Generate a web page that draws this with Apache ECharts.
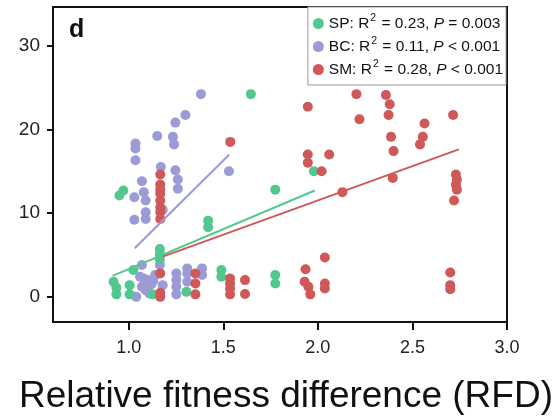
<!DOCTYPE html>
<html>
<head>
<meta charset="utf-8">
<script src="https://cdn.jsdelivr.net/npm/echarts@6/dist/echarts.min.js"></script>
<style>
  html, body { margin: 0; padding: 0; background: #fff; }
  #chart { width: 556px; height: 420px; }
</style>
</head>
<body>
<div id="chart"></div>
<script>
// series names, in legend order
var seriesNames = ['SP', 'BC', 'SM'];
var r2Values = ['0.23', '0.11', '0.28'];
var pTexts = ['= 0.003', '< 0.001', '< 0.001'];

// tick labels
var xTicks = [1.0, 1.5, 2.0, 2.5, 3.0];
var yTicks = [0, 10, 20, 30];

// points: [RFD, y]
var spPoints = [
    [0.951, 12.1], [0.972, 12.7], [1.42, 9.1], [1.42, 8.3],
    [1.165, 5.7], [1.165, 5.1], [1.165, 4.5],
    [0.92, 1.8], [0.935, 1.1], [0.935, 0.3], [1.005, 1.4], [1.005, 0.3],
    [1.025, 3.2], [1.125, 0.3], [1.305, 0.6], [1.49, 3.2], [1.49, 2.4],
    [1.775, 2.6], [1.775, 1.6], [1.775, 12.8], [1.646, 24.2], [1.979, 15.0]
];
var bcPoints = [
    [1.382, 24.2], [1.30, 21.7], [1.247, 20.8], [1.151, 19.2], [1.234, 19.1],
    [1.24, 18.2], [1.036, 18.3], [1.036, 17.7], [1.036, 16.3], [1.53, 15.0],
    [1.17, 15.5], [1.247, 15.1], [1.26, 14.0], [1.26, 12.9], [1.07, 13.8],
    [1.08, 12.5], [1.09, 11.5], [1.03, 11.9], [1.09, 10.1], [1.09, 9.3],
    [1.03, 9.2], [1.18, 10.4],
    [1.07, 3.8], [1.06, 2.4], [1.08, 2.2], [1.10, 2.0], [1.12, 1.5],
    [1.07, 1.2], [1.09, 0.8], [1.11, 0.4], [1.04, 0.0], [1.13, 1.9],
    [1.18, 1.4], [1.165, 3.8], [1.14, 2.6],
    [1.252, 2.8], [1.252, 2.0], [1.252, 1.2], [1.252, 0.3],
    [1.31, 3.4], [1.31, 2.8], [1.31, 1.8], [1.388, 3.4], [1.388, 2.6]
];
var smPoints = [
    [1.167, 14.6], [1.167, 13.4], [1.167, 12.8], [1.167, 12.3], [1.167, 11.5],
    [1.167, 10.7], [1.167, 10.1], [1.167, 9.3], [1.167, 2.8], [1.167, 0.5],
    [1.167, 0.0], [1.537, 18.5],
    [1.353, 2.8], [1.353, 1.6], [1.353, 0.3],
    [1.536, 2.2], [1.536, 1.6], [1.536, 1.0], [1.536, 0.3],
    [1.615, 2.0], [1.615, 0.35],
    [1.935, 3.3], [1.93, 1.8], [1.95, 1.2], [1.96, 0.3],
    [2.037, 4.7], [2.037, 1.6], [2.037, 1.0],
    [2.73, 14.6], [2.735, 14.0], [2.73, 13.4], [2.735, 12.8], [2.72, 11.5],
    [2.70, 2.9], [2.70, 1.4], [2.70, 0.9],
    [2.13, 12.5], [2.396, 14.2], [2.02, 15.0],
    [1.947, 22.7], [2.204, 24.2], [2.36, 24.1], [2.38, 23.0], [2.374, 21.7],
    [2.22, 21.2], [2.715, 21.7], [2.564, 20.7], [2.555, 19.1], [2.54, 18.2],
    [2.387, 19.1], [2.40, 17.4], [1.947, 17.0], [1.947, 16.0], [2.06, 17.0]
];

// fitted lines, end points
var spFit = [[0.915, 2.5], [1.984, 12.7]];
var bcFit = [[1.032, 5.8], [1.532, 17.0]];
var smFit = [[1.18, 4.8], [2.745, 17.6]];

var colors = { SP: '#52c890', BC: '#9b9bd8', SM: '#cf5858' };
var font = 'Liberation Sans, Arial, sans-serif';

function scatter(name, data) {
    return {
        name: name,
        type: 'scatter',
        data: data,
        symbolSize: 10,
        itemStyle: { color: colors[name], opacity: 1 },
        z: 2
    };
}

function fitLine(name, data) {
    return {
        name: name + ' fit',
        type: 'line',
        data: data,
        symbol: 'none',
        silent: true,
        lineStyle: { color: colors[name], width: 2 },
        z: 3
    };
}

var chart = echarts.init(document.getElementById('chart'));

var option = {
    animation: false,
    backgroundColor: '#fff',
    title: {
        text: 'd',
        left: 64,
        top: 13,
        textStyle: { fontSize: 25, fontWeight: 'bold', color: '#111', fontFamily: font }
    },
    legend: {
        data: seriesNames,
        orient: 'vertical',
        right: 50,
        top: 7,
        icon: 'circle',
        itemWidth: 11,
        itemHeight: 11,
        itemGap: 2,
        padding: [6, 3, 5, 5],
        borderColor: '#999',
        borderWidth: 1,
        backgroundColor: '#fff',
        formatter: function (name) {
            var i = seriesNames.indexOf(name);
            return name + ': R{sup|2} = ' + r2Values[i] + ', {it|P} ' + pTexts[i];
        },
        textStyle: {
            fontSize: 15.5,
            lineHeight: 20,
            color: '#111',
            fontFamily: font,
            rich: {
                sup: { fontSize: 10.5, lineHeight: 11, padding: [0, 1, 10, 1], color: '#111', fontFamily: font },
                it: { fontSize: 15.5, lineHeight: 20, fontStyle: 'italic', color: '#111', fontFamily: font }
            }
        }
    },
    grid: {
        left: 53,
        right: 49,
        top: 7,
        bottom: 94,
        show: true,
        borderColor: '#111',
        borderWidth: 2
    },
    xAxis: {
        type: 'value',
        min: 0.6,
        max: 3.0,
        name: 'Relative fitness difference (RFD)',
        nameLocation: 'middle',
        nameGap: 56,
        nameTextStyle: { fontSize: 37, color: '#111', fontFamily: font, padding: [0, 0, 0, 12] },
        splitLine: { show: false },
        axisLine: { show: true, onZero: false, lineStyle: { color: '#111', width: 2 } },
        axisTick: { show: true, length: 8, customValues: xTicks, lineStyle: { color: '#111', width: 2 } },
        axisLabel: {
            customValues: xTicks,
            margin: 17,
            fontSize: 18,
            color: '#222',
            fontFamily: font,
            formatter: function (v) { return v.toFixed(1); }
        }
    },
    yAxis: {
        type: 'value',
        min: -3,
        max: 34.6,
        splitLine: { show: false },
        axisLine: { show: true, onZero: false, lineStyle: { color: '#111', width: 2 } },
        axisTick: { show: true, length: 6, customValues: yTicks, lineStyle: { color: '#111', width: 2 } },
        axisLabel: {
            customValues: yTicks,
            margin: 13,
            fontSize: 19,
            color: '#222',
            fontFamily: font
        }
    },
    series: [
        scatter('BC', bcPoints),
        scatter('SP', spPoints),
        scatter('SM', smPoints),
        fitLine('BC', bcFit),
        fitLine('SP', spFit),
        fitLine('SM', smFit)
    ]
};

chart.setOption(option);
</script>
</body>
</html>
